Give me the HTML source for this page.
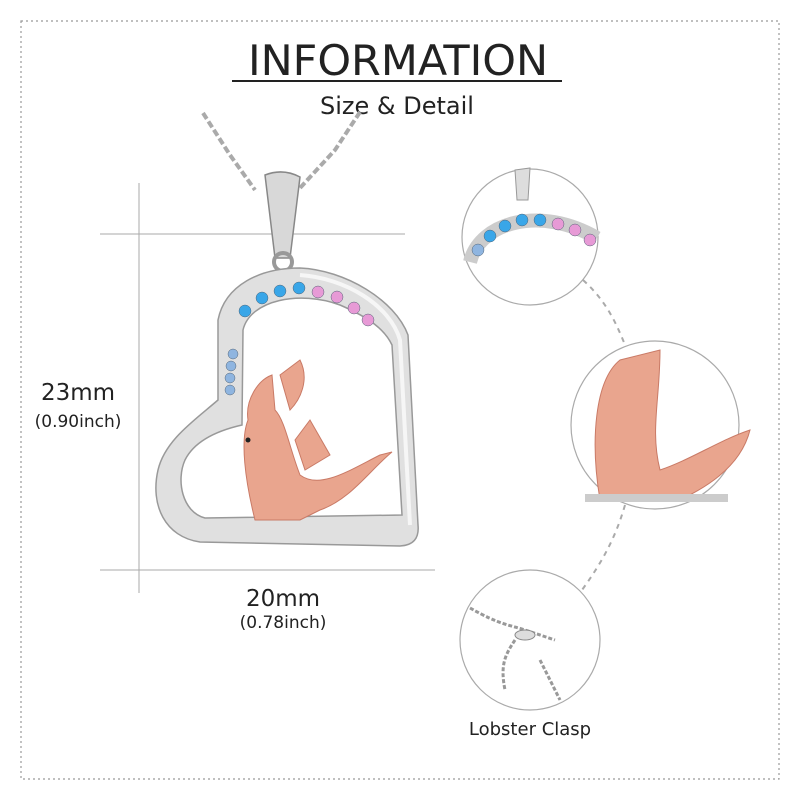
<!DOCTYPE html>
<html><head><meta charset="utf-8"><style>
body{margin:0;background:#fff;}
svg{display:block;}
text{font-family:"DejaVu Sans","Liberation Sans",sans-serif;fill:#222;}
</style></head><body>
<svg width="800" height="800" viewBox="0 0 800 800">
<rect x="21" y="21" width="758" height="758" fill="none" stroke="#999" stroke-width="1.2" stroke-dasharray="2,3"/>
<text x="248" y="75" font-size="42" textLength="300" lengthAdjust="spacingAndGlyphs" style="font-family:'DejaVu Sans';font-stretch:condensed">INFORMATION</text>
<line x1="232" y1="81" x2="562" y2="81" stroke="#222" stroke-width="2"/>
<text x="397" y="114" font-size="24" text-anchor="middle">Size &amp; Detail</text>
<line x1="100" y1="234" x2="405" y2="234" stroke="#aaa" stroke-width="1"/>
<line x1="139" y1="183" x2="139" y2="593" stroke="#aaa" stroke-width="1"/>
<line x1="100" y1="570" x2="435" y2="570" stroke="#aaa" stroke-width="1"/>
<text x="78" y="400" font-size="23" text-anchor="middle">23mm</text>
<text x="78" y="427" font-size="17" text-anchor="middle">(0.90inch)</text>
<text x="283" y="606" font-size="23" text-anchor="middle">20mm</text>
<text x="283" y="628" font-size="17" text-anchor="middle">(0.78inch)</text>
<path d="M203,113 L230,155 L255,190" stroke="#aaa" stroke-width="4" fill="none" stroke-dasharray="7,3"/>
<path d="M360,112 L335,150 L300,188" stroke="#aaa" stroke-width="4" fill="none" stroke-dasharray="7,3"/>
<path d="M265,175 Q283,168 300,177 L290,258 L275,258 Z" fill="#d8d8d8" stroke="#888" stroke-width="1.5"/>
<circle cx="283" cy="262" r="9" fill="none" stroke="#999" stroke-width="4"/>
<path fill-rule="evenodd" fill="#e0e0e0" stroke="#999" stroke-width="1.5" d="
M218,320 C225,285 260,268 300,268 C345,270 395,300 408,335 L418,525 Q420,545 400,546 L200,542 C165,537 150,505 158,470 C165,440 195,420 218,400 Z
M243,330 C250,300 300,290 340,305 C370,318 385,330 392,345 L402,515 L205,518 C182,512 176,480 185,460 C195,440 220,430 242,425 Z"/>
<path d="M300,275 C345,278 390,305 400,340 L410,525" fill="none" stroke="#f6f6f6" stroke-width="4"/>
<g stroke="#567" stroke-width="0.5">
<circle cx="230" cy="390" r="5" fill="#8fb5e0"/><circle cx="230" cy="378" r="5" fill="#8fb5e0"/><circle cx="231" cy="366" r="5" fill="#8fb5e0"/><circle cx="233" cy="354" r="5" fill="#8fb5e0"/>
<circle cx="245" cy="311" r="6" fill="#39a6e8"/><circle cx="262" cy="298" r="6" fill="#39a6e8"/><circle cx="280" cy="291" r="6" fill="#39a6e8"/><circle cx="299" cy="288" r="6" fill="#39a6e8"/>
<circle cx="318" cy="292" r="6" fill="#e79ad6"/><circle cx="337" cy="297" r="6" fill="#e79ad6"/><circle cx="354" cy="308" r="6" fill="#e79ad6"/><circle cx="368" cy="320" r="6" fill="#e79ad6"/>
</g>
<g fill="#e9a58e" stroke="#c97a66" stroke-width="1">
<path d="M255,520 C245,480 240,440 248,420 C245,400 258,380 272,375 L275,410 C285,420 290,450 300,475 C320,490 350,470 380,455 L392,452 C370,470 350,500 320,510 L300,520 Z"/>
<path d="M280,375 L300,360 C310,380 300,400 290,410 Z"/>
<path d="M295,440 L310,420 L330,455 L305,470 Z"/>
</g>
<circle cx="248" cy="440" r="2.5" fill="#222"/>
<circle cx="530" cy="237" r="68" fill="#fff" stroke="#aaa" stroke-width="1.2"/>
<path d="M470,262 C480,222 540,205 597,238" fill="none" stroke="#ccc" stroke-width="14"/>
<g stroke="#567" stroke-width="0.5"><circle cx="478" cy="250" r="6" fill="#8fb5e0"/><circle cx="490" cy="236" r="6" fill="#39a6e8"/><circle cx="505" cy="226" r="6" fill="#39a6e8"/><circle cx="522" cy="220" r="6" fill="#39a6e8"/><circle cx="540" cy="220" r="6" fill="#39a6e8"/><circle cx="558" cy="224" r="6" fill="#e79ad6"/><circle cx="575" cy="230" r="6" fill="#e79ad6"/><circle cx="590" cy="240" r="6" fill="#e79ad6"/></g>
<path d="M515,170 L530,168 L528,200 L517,200 Z" fill="#ddd" stroke="#999"/>
<circle cx="655" cy="425" r="84" fill="#fff" stroke="#aaa" stroke-width="1.2"/>
<path d="M600,500 C590,440 595,380 620,360 L660,350 C660,400 650,430 660,470 C690,460 720,440 750,430 C740,470 700,490 680,500 Z" fill="#e9a58e" stroke="#c97a66"/>
<line x1="585" y1="498" x2="728" y2="498" stroke="#ccc" stroke-width="8"/>
<circle cx="530" cy="640" r="70" fill="#fff" stroke="#aaa" stroke-width="1.2"/>
<path d="M470,608 C500,625 510,625 525,630 L555,640 M515,640 C505,655 500,665 505,690 M540,660 L560,700" fill="none" stroke="#999" stroke-width="3" stroke-dasharray="4,2"/>
<ellipse cx="525" cy="635" rx="10" ry="5" fill="#ddd" stroke="#888"/>
<path d="M583,280 C605,300 615,320 625,345" fill="none" stroke="#aaa" stroke-width="2" stroke-dasharray="5,5"/>
<path d="M625,505 C615,540 600,565 582,590" fill="none" stroke="#aaa" stroke-width="2" stroke-dasharray="5,5"/>
<text x="530" y="735" font-size="18" text-anchor="middle">Lobster Clasp</text>
</svg>
</body></html>
